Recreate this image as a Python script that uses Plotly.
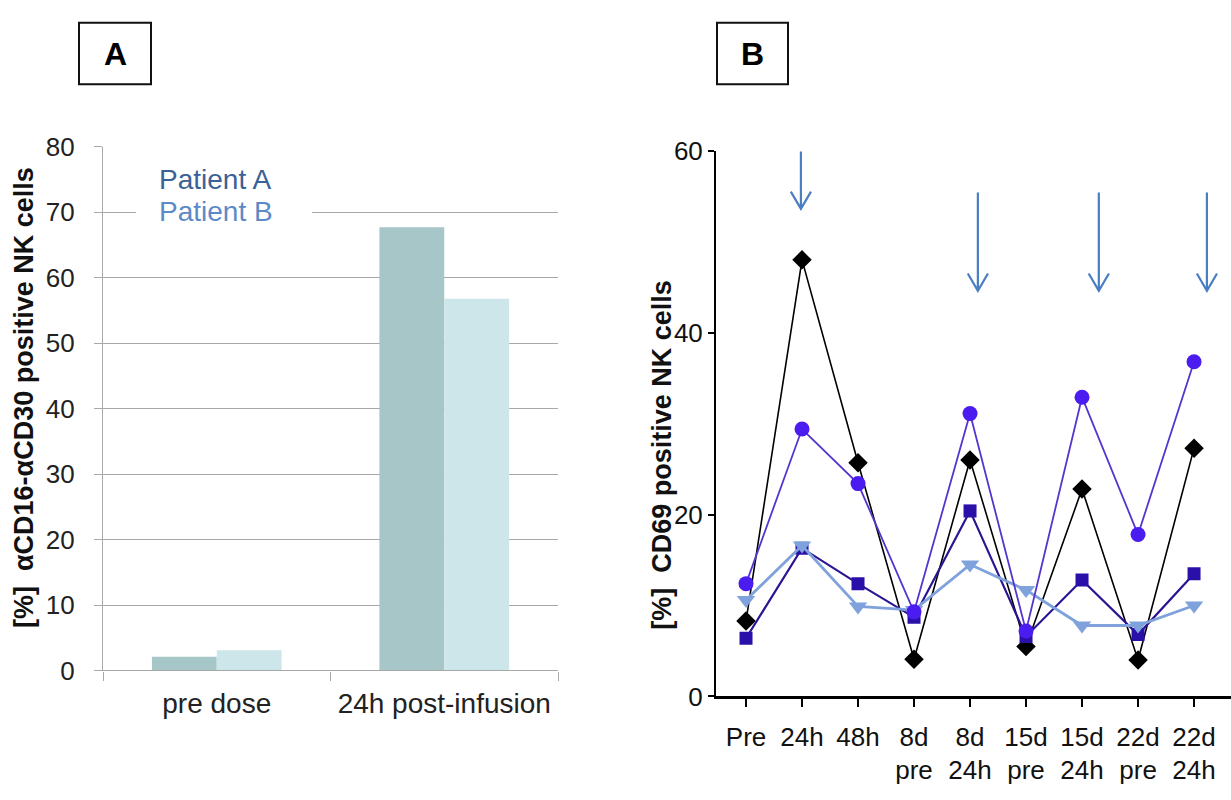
import plotly.graph_objects as go

W, H = 1231, 800

# ---------- Panel A data ----------
a_categories = ["pre dose", "24h post-infusion"]
a_patient_a = [2.1, 67.7]
a_patient_b = [3.1, 56.8]
a_yticks = [0, 10, 20, 30, 40, 50, 60, 70, 80]

# ---------- Panel B data ----------
b_categories = ["Pre", "24h", "48h", "8d<br>pre", "8d<br>24h", "15d<br>pre", "15d<br>24h", "22d<br>pre", "22d<br>24h"]
b_diamond = [8.3, 48.0, 25.7, 4.1, 26.0, 5.5, 22.8, 4.0, 27.3]
b_circle = [12.4, 29.4, 23.4, 9.3, 31.1, 7.2, 32.9, 17.8, 36.8]
b_square = [6.4, 16.3, 12.4, 8.7, 20.4, 6.6, 12.8, 6.8, 13.5]
b_triangle = [10.6, 16.6, 9.9, 9.5, 14.5, 11.7, 7.8, 7.8, 10.0]
b_yticks = [0, 20, 40, 60]
# dosing arrows: (x position in category units, top value, tip value)
arrow_x = [0.98, 4.14, 6.3, 8.23]
arrow_top = [59.9, 55.4, 55.4, 55.4]
arrow_tip = [53.6, 44.6, 44.6, 44.6]

def px(x):
    return x / W

def py(y):
    return 1 - y / H

fig = go.Figure()

# Panel A bars
fig.add_trace(go.Bar(x=a_categories, y=a_patient_a, name="Patient A",
                     marker=dict(color="#A6C6C8", line=dict(width=0)),
                     xaxis="x", yaxis="y", showlegend=False))
fig.add_trace(go.Bar(x=a_categories, y=a_patient_b, name="Patient B",
                     marker=dict(color="#CDE6E9", line=dict(width=0)),
                     xaxis="x", yaxis="y", showlegend=False))

# Panel B lines
bx = list(range(len(b_categories)))
fig.add_trace(go.Scatter(x=bx, y=b_diamond, mode="lines+markers",
                         line=dict(color="#000000", width=1.6),
                         marker=dict(symbol="diamond", size=15, color="#000000"),
                         xaxis="x2", yaxis="y2", showlegend=False))
fig.add_trace(go.Scatter(x=bx, y=b_square, mode="lines+markers",
                         line=dict(color="#2C1592", width=2.2),
                         marker=dict(symbol="square", size=13, color="#2A10A8"),
                         xaxis="x2", yaxis="y2", showlegend=False))
fig.add_trace(go.Scatter(x=bx, y=b_triangle, mode="lines+markers",
                         line=dict(color="#7FA2DC", width=2.8),
                         marker=dict(symbol="triangle-down", size=16, color="#7FA2DC"),
                         xaxis="x2", yaxis="y2", showlegend=False))
fig.add_trace(go.Scatter(x=bx, y=b_circle, mode="lines+markers",
                         line=dict(color="#5534D0", width=1.8),
                         marker=dict(symbol="circle", size=15, color="#4A1CF0"),
                         xaxis="x2", yaxis="y2", showlegend=False))

grid = "#A8A8A8"
tickfont_a = dict(family="Liberation Sans, Arial, sans-serif", size=26, color="#222222")
tickfont_b = dict(family="Liberation Sans, Arial, sans-serif", size=26, color="#111111")

fig.update_layout(
    width=W, height=H,
    margin=dict(l=0, r=0, t=0, b=0),
    paper_bgcolor="white", plot_bgcolor="white",
    barmode="group", bargap=0.43, bargroupgap=0,
    xaxis=dict(domain=[px(103), px(558)], type="category",
               categoryorder="array", categoryarray=a_categories,
               range=[-0.5, 1.5], tickson="boundaries",
               ticks="outside", ticklen=9, tickcolor=grid, tickwidth=1.3,
               showline=True, linecolor=grid, linewidth=1.3,
               showgrid=False, tickfont=dict(tickfont_a, size=28),
               ticklabelstandoff=8, anchor="y"),
    yaxis=dict(domain=[py(681), py(137)], range=[0, 80], tickvals=a_yticks,
               showgrid=True, gridcolor=grid, gridwidth=1.3,
               ticks="outside", ticklen=8, tickcolor=grid, tickwidth=1.3,
               showline=True, linecolor=grid, linewidth=1.3,
               zeroline=False, tickfont=tickfont_a, ticklabelstandoff=14,
               anchor="x"),
    xaxis2=dict(domain=[px(716), 1.0], range=[-0.536, 8.66],
                tickvals=bx, ticktext=b_categories,
                ticks="outside", ticklen=8, tickwidth=2, tickcolor="#000000",
                showline=True, linecolor="#000000", linewidth=3,
                showgrid=False, zeroline=False, tickfont=tickfont_b,
                ticklabelstandoff=7, anchor="y2"),
    yaxis2=dict(domain=[py(708), py(141)], range=[0, 60], tickvals=b_yticks,
                ticks="outside", ticklen=6, tickwidth=2, tickcolor="#000000",
                showline=True, linecolor="#000000", linewidth=2,
                showgrid=False, zeroline=False, tickfont=tickfont_b, anchor="x2"),
)

shapes = []
annotations = []

# legend background break on gridline 70
shapes.append(dict(type="rect", xref="paper", yref="paper",
                   x0=px(136), x1=px(312), y0=py(215), y1=py(195),
                   fillcolor="white", line=dict(width=0), layer="above"))
annotations.append(dict(text="Patient A", xref="paper", yref="paper",
                        x=px(157), y=py(171), xanchor="left", yanchor="middle",
                        showarrow=False,
                        font=dict(family="Liberation Sans, Arial, sans-serif", size=28, color="#3A6296")))
annotations.append(dict(text="Patient B", xref="paper", yref="paper",
                        x=px(157), y=py(204), xanchor="left", yanchor="middle",
                        showarrow=False,
                        font=dict(family="Liberation Sans, Arial, sans-serif", size=28, color="#5B8AC6")))

# axis titles
annotations.append(dict(text="<b>[%]\u00a0\u00a0αCD16-αCD30 positive NK cells</b>", xref="paper", yref="paper",
                        x=px(24), y=py(398), xanchor="center", yanchor="middle",
                        textangle=-90, showarrow=False,
                        font=dict(family="Liberation Sans, Arial, sans-serif", size=27, color="#111111")))
annotations.append(dict(text="<b>[%]\u00a0\u00a0CD69 positive NK cells</b>", xref="paper", yref="paper",
                        x=px(662), y=py(457), xanchor="center", yanchor="middle",
                        textangle=-90, showarrow=False,
                        font=dict(family="Liberation Sans, Arial, sans-serif", size=27, color="#111111")))

# panel label boxes
for (x0, x1, lab) in [(79, 151, "A"), (717, 788, "B")]:
    shapes.append(dict(type="rect", xref="paper", yref="paper",
                       x0=px(x0), x1=px(x1), y0=py(72), y1=py(8),
                       line=dict(color="#111111", width=2), fillcolor="white"))
    annotations.append(dict(text="<b>" + lab + "</b>", xref="paper", yref="paper",
                            x=px((x0 + x1) / 2), y=py(41), xanchor="center", yanchor="middle",
                            showarrow=False,
                            font=dict(family="Liberation Sans, Arial, sans-serif", size=32, color="#000000")))

# dosing arrows
hw, hh = 0.18, 1.9
for xa, yt, yb in zip(arrow_x, arrow_top, arrow_tip):
    path = (f"M {xa},{yt} L {xa},{yb} "
            f"M {xa - hw},{yb + hh} L {xa},{yb} L {xa + hw},{yb + hh}")
    shapes.append(dict(type="path", xref="x2", yref="y2", path=path,
                       line=dict(color="#4A7EC2", width=2.2)))

fig.update_layout(shapes=shapes, annotations=annotations)

fig.write_html("out.html", config={"displayModeBar": False},
               post_script="document.body.style.margin='0px';document.body.style.overflow='hidden';")
